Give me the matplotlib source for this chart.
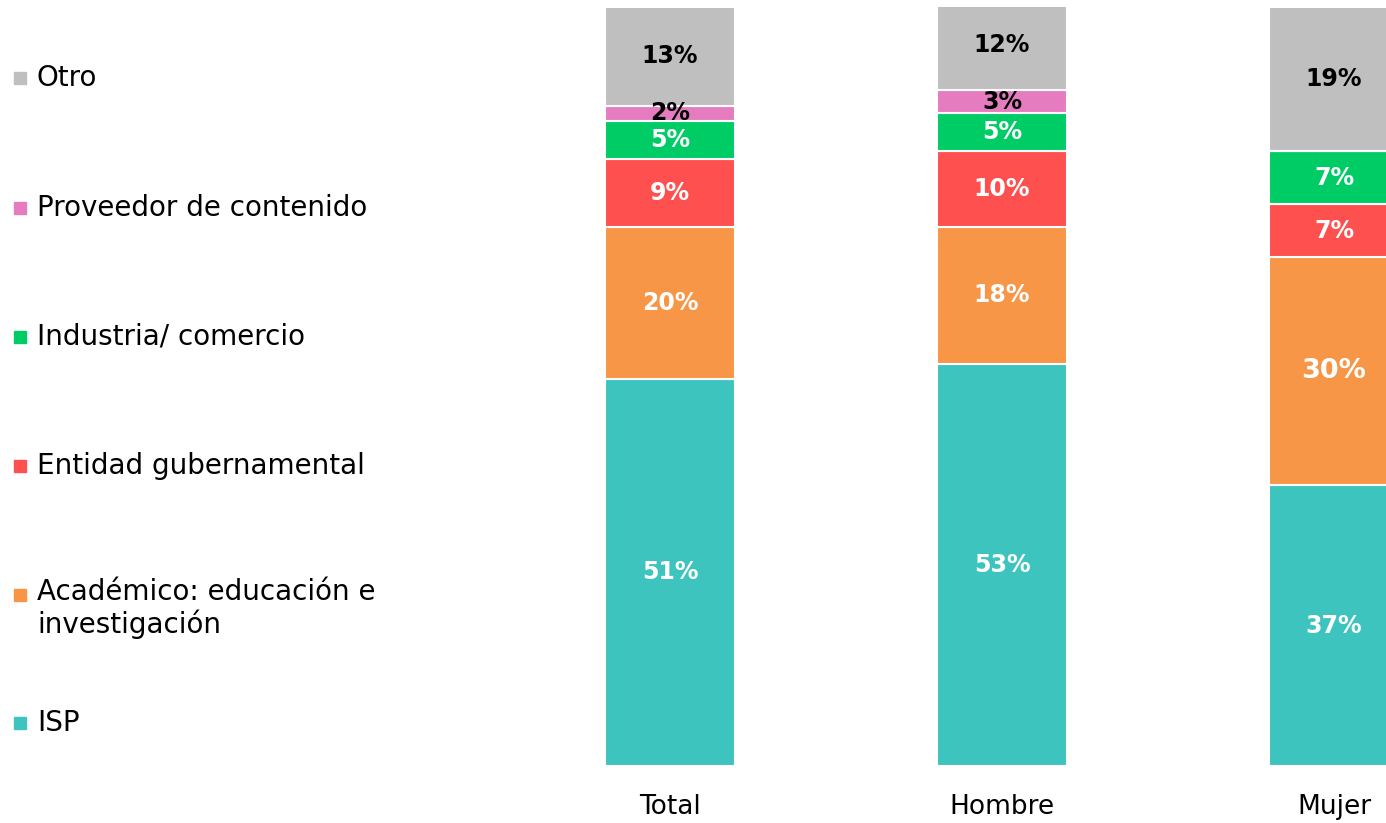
import matplotlib.pyplot as plt
from matplotlib.patches import Rectangle

plt.rcParams['font.family'] = ['DejaVu Sans']

grupos = ['Total', 'Hombre', 'Mujer']
series = ['ISP', 'Académico: educación e\ninvestigación', 'Entidad gubernamental',
          'Industria/ comercio', 'Proveedor de contenido', 'Otro']
colores = ['#3EC4BE', '#F79646', '#FF5050', '#00CC66', '#E67CC0', '#BFBFBF']
color_texto = ['white', 'white', 'white', 'white', 'black', 'black']

isp = [51, 53, 37]
academico = [20, 18, 30]
entidad = [9, 10, 7]
industria = [5, 5, 7]
proveedor = [2, 3, 0]
otro = [13, 12, 19]
valores = [isp, academico, entidad, industria, proveedor, otro]

fig = plt.figure(figsize=(13.86, 8.23), dpi=100)
ax = fig.add_axes([504 / 1386, 57 / 823, 882 / 1386, 759 / 823])

x = range(len(grupos))
base = [0, 0, 0]
for k, (vals, col, tc) in enumerate(zip(valores, colores, color_texto)):
    ax.bar(x, vals, bottom=base, width=0.39, color=col, edgecolor='white', linewidth=1.5)
    for i, v in enumerate(vals):
        if v > 0:
            # la etiqueta de académico en Mujer va un poco más grande
            tam = 19.5 if (k == 1 and i == 2) else 17
            ax.text(i, base[i] + v / 2, f'{v}%', ha='center', va='center',
                    color=tc, fontsize=tam, fontweight='bold')
    base = [b + v for b, v in zip(base, vals)]

ax.set_xlim(-0.5, (1386 - 670) / 332)
ax.set_ylim(0, 100)
ax.set_yticks([])
ax.set_xticks(list(x))
ax.set_xticklabels(grupos, fontsize=19)
ax.tick_params(axis='x', length=0, pad=20)
for s in ax.spines.values():
    s.set_visible(False)

# leyenda manual a la izquierda, de arriba hacia abajo
leyenda_y = [78, 208, 337, 466, 595, 723]
for nombre, col, py in zip(series[::-1], colores[::-1], leyenda_y):
    fy = 1 - py / 823
    fig.patches.append(Rectangle((14 / 1386, fy - 6 / 823), 12 / 1386, 12 / 823,
                                 transform=fig.transFigure, color=col))
    if '\n' in nombre:
        fig.text(37 / 1386, fy + 17 / 823, nombre, ha='left', va='top',
                 fontsize=20, linespacing=1.15)
    else:
        fig.text(37 / 1386, fy, nombre, ha='left', va='center', fontsize=20)

fig.savefig('out.png', dpi=100)
